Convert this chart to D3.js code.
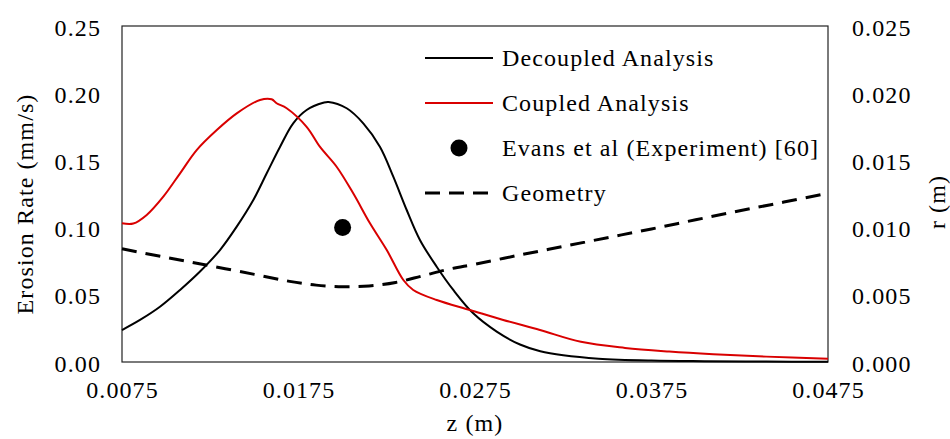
<!DOCTYPE html>
<html><head><meta charset="utf-8">
<script src="https://cdn.jsdelivr.net/npm/d3@7"></script>
<style>
html,body{margin:0;padding:0;background:#fff;}
text{font-family:"Liberation Serif","Times New Roman",serif;fill:#000;}
</style></head>
<body><svg id="chart" width="950" height="439"></svg>
<script>
// z (m) positions and values
const decoupledZ = [0.0075,0.00852,0.00965,0.01079,0.01192,0.01305,0.0140,0.01494,0.0157,0.01645,0.0172,0.01796,0.0189,0.0192,0.02023,0.02117,0.02212,0.02287,0.02363,0.02438,0.02533,0.02627,0.0274,0.02873,0.03005,0.0312,0.0325,0.0345,0.0375,0.0405,0.0440,0.0475];
const decoupledV = [0.0238,0.0313,0.0411,0.0536,0.0673,0.0833,0.1007,0.1205,0.1404,0.160,0.1776,0.1875,0.1929,0.1935,0.1888,0.1776,0.160,0.1379,0.1131,0.0908,0.0709,0.0536,0.0362,0.0226,0.0130,0.0080,0.0050,0.0025,0.0011,0.0006,0.0003,0.0002];
const coupledZ = [0.0075,0.00814,0.0089,0.00984,0.01079,0.01173,0.01287,0.0140,0.01532,0.01598,0.01626,0.01683,0.01796,0.01872,0.01966,0.0206,0.02155,0.0225,0.02344,0.0240,0.02533,0.02722,0.0291,0.03118,0.0335,0.0360,0.0385,0.0410,0.0440,0.0475];
const coupledV = [0.1032,0.1030,0.1094,0.123,0.1404,0.1577,0.1726,0.185,0.195,0.1955,0.1925,0.1888,0.175,0.160,0.1453,0.1255,0.1032,0.0833,0.061,0.0536,0.0461,0.0387,0.0313,0.0238,0.0150,0.0105,0.0078,0.0058,0.0040,0.0025];
const experimentZ = [0.020];
const experimentV = [0.100];
const geometryZ = [0.0075,0.0100,0.0125,0.0150,0.0170,0.0185,0.0200,0.0215,0.0230,0.0245,0.0260,0.0275,0.0300,0.0325,0.0350,0.0375,0.0400,0.0425,0.0450,0.0475];
const geometryR = [0.00842,0.00778,0.00716,0.00652,0.00600,0.00572,0.00560,0.00566,0.00592,0.00640,0.00690,0.00728,0.00795,0.00860,0.00925,0.00990,0.01058,0.01125,0.01190,0.01255];
const xTicks = [0.0075,0.0175,0.0275,0.0375,0.0475];
const yTicks = [0,0.05,0.10,0.15,0.20,0.25];
const y2Ticks = [0,0.005,0.010,0.015,0.020,0.025];
const legendLabels = ["Decoupled Analysis","Coupled Analysis","Evans et al (Experiment) [60]","Geometry"];

const svg = d3.select("#chart");
const L=122,R=828,T=26,B=362;
const x = d3.scaleLinear().domain([0.0075,0.0475]).range([L,R]);
const y = d3.scaleLinear().domain([0,0.25]).range([B,T]);
const y2 = d3.scaleLinear().domain([0,0.025]).range([B,T]);
const FS = 24, LS = "1.1px";

// frame
svg.append("rect").attr("x",L).attr("y",T).attr("width",R-L).attr("height",B-T)
  .attr("fill","none").attr("stroke","#222").attr("stroke-width",1.2);

// axes (labels only, no tick marks)
const axL = d3.axisLeft(y).tickValues(yTicks).tickFormat(d3.format(".2f")).tickSize(0).tickPadding(21);
const gL = svg.append("g").attr("transform",`translate(${L},0)`).call(axL);
const axR = d3.axisRight(y2).tickValues(y2Ticks).tickFormat(d3.format(".3f")).tickSize(0).tickPadding(24);
const gR = svg.append("g").attr("transform",`translate(${R},0)`).call(axR);
const axB = d3.axisBottom(x).tickValues(xTicks).tickFormat(d3.format(".4f")).tickSize(0).tickPadding(19);
const gB = svg.append("g").attr("transform",`translate(0,${B})`).call(axB);
[gL,gR,gB].forEach(g=>{
  g.select(".domain").remove();
  g.selectAll("text").attr("font-size",FS).attr("font-family","Liberation Serif").style("letter-spacing",LS).attr("fill","#000");
});
gL.selectAll("text").attr("dy","0.38em");
gR.selectAll("text").attr("dy","0.38em");

// axis titles
svg.append("text").attr("transform",`translate(33,${(T+B)/2+10}) rotate(-90)`).attr("text-anchor","middle")
  .attr("font-size",FS).style("letter-spacing",LS).text("Erosion Rate (mm/s)");
svg.append("text").attr("transform",`translate(945,${(T+B)/2+8}) rotate(-90)`).attr("text-anchor","middle")
  .attr("font-size",FS).style("letter-spacing",LS).text("r (m)");
svg.append("text").attr("x",(L+R)/2).attr("y",431).attr("text-anchor","middle")
  .attr("font-size",FS).style("letter-spacing",LS).text("z (m)");

// lines
const lineY = d3.line().curve(d3.curveCatmullRom.alpha(0.5));
const pts = (zs,vs,sc)=>zs.map((z,i)=>[x(z),sc(vs[i])]);
svg.append("path").attr("d",lineY(pts(geometryZ,geometryR,y2))).attr("fill","none")
  .attr("stroke","#000").attr("stroke-width",3).attr("stroke-dasharray","15,9");
svg.append("path").attr("d",lineY(pts(decoupledZ,decoupledV,y))).attr("fill","none")
  .attr("stroke","#000").attr("stroke-width",2);
svg.append("path").attr("d",lineY(pts(coupledZ,coupledV,y))).attr("fill","none")
  .attr("stroke","#d90000").attr("stroke-width",2);
svg.selectAll(".exp").data(experimentZ).enter().append("circle")
  .attr("cx",(d)=>x(d)).attr("cy",(d,i)=>y(experimentV[i])).attr("r",8.5).attr("fill","#000");

// legend
const lg = svg.append("g");
const ly0 = 58, ldy = 45, lx1 = 425, lx2 = 493;
legendLabels.forEach((lab,i)=>{
  const yy = ly0 + i*ldy;
  if(i===0) lg.append("line").attr("x1",lx1).attr("x2",lx2).attr("y1",yy).attr("y2",yy).attr("stroke","#000").attr("stroke-width",2);
  if(i===1) lg.append("line").attr("x1",lx1).attr("x2",lx2).attr("y1",yy).attr("y2",yy).attr("stroke","#d90000").attr("stroke-width",2);
  if(i===2) lg.append("circle").attr("cx",(lx1+lx2)/2).attr("cy",yy).attr("r",8.5).attr("fill","#000");
  if(i===3) lg.append("line").attr("x1",lx1).attr("x2",lx2).attr("y1",yy).attr("y2",yy).attr("stroke","#000").attr("stroke-width",3).attr("stroke-dasharray","15,9");
  lg.append("text").attr("x",502).attr("y",yy).attr("dy","0.33em").attr("font-size",FS).style("letter-spacing",LS).text(lab);
});
</script></body></html>
